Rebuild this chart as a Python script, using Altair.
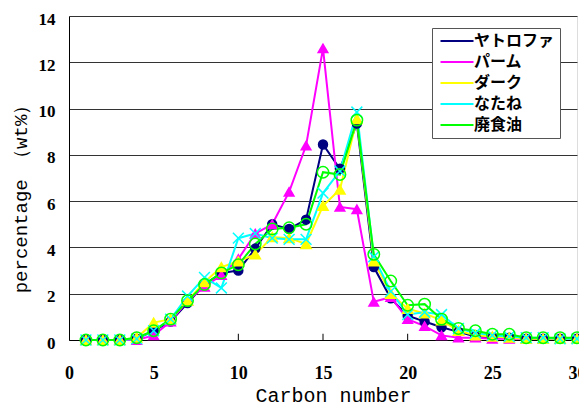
import altair as alt
import pandas as pd

carbon = list(range(1, 31))
series_names = ["ヤトロファ", "パーム", "ダーク", "なたね", "廃食油"]
yatorofa = [0.0, 0.0, 0.0, 0.05, 0.4, 0.8, 1.6, 2.4, 2.9, 3.0, 3.95, 5.0, 4.8, 5.2, 8.45, 7.4, 9.35, 3.15, 1.8, 1.05, 0.8, 0.55, 0.35, 0.15, 0.1, 0.1, 0.05, 0.05, 0.05, 0.05]
palm = [0.0, 0.0, 0.0, 0.0, 0.2, 0.8, 1.7, 2.3, 2.8, 3.5, 4.6, 5.0, 6.4, 8.4, 12.6, 5.75, 5.65, 1.65, 1.85, 0.9, 0.6, 0.2, 0.1, 0.1, 0.05, 0.05, 0.05, 0.05, 0.05, 0.05]
dark = [0.0, 0.0, 0.0, 0.1, 0.75, 0.9, 1.7, 2.5, 3.15, 3.4, 3.7, 4.45, 4.4, 4.15, 5.8, 6.5, 9.55, 3.4, 2.0, 1.35, 1.15, 0.85, 0.4, 0.2, 0.15, 0.1, 0.05, 0.05, 0.05, 0.05]
natane = [0.0, 0.0, 0.0, 0.05, 0.4, 0.9, 1.9, 2.7, 2.25, 4.4, 4.6, 4.4, 4.35, 4.35, 6.35, 7.3, 9.85, 3.6, 2.1, 1.1, 1.2, 1.1, 0.5, 0.3, 0.2, 0.15, 0.1, 0.1, 0.05, 0.05]
haishokuyu = [0.0, 0.0, 0.0, 0.1, 0.4, 0.9, 1.7, 2.4, 2.9, 3.25, 4.15, 4.8, 4.85, 5.0, 7.25, 7.15, 9.5, 3.7, 2.55, 1.5, 1.55, 0.9, 0.5, 0.4, 0.25, 0.25, 0.1, 0.1, 0.1, 0.1]
marker_keys = ["m1", "m2", "m3", "m4", "m5"]
x_tick_values = [0, 5, 10, 15, 20, 25, 30]
y_tick_values = [0, 2, 4, 6, 8, 10, 12, 14]
inner_ticks = [5, 10, 15, 20, 25]

colors = ["#000080", "#FF00FF", "#FFFF00", "#00FFFF", "#00FF00"]
fills = ["#000080", "#FF00FF", "#FFFF00", "transparent", "transparent"]
shapes = ["circle", "triangle-up", "triangle-up", "M-1,-1L1,1M-1,1L1,-1", "circle"]
sizes = [80, 130, 130, 150, 85]

rows = []
for name, key, vals in zip(series_names, marker_keys, [yatorofa, palm, dark, natane, haishokuyu]):
    for c, v in zip(carbon, vals):
        rows.append({"series": name, "marker": key, "carbon": c, "value": v})
df = pd.DataFrame(rows)
ticks_df = pd.DataFrame({"tick": inner_ticks})

xscale = alt.Scale(domain=[0, 30], nice=False)
yscale = alt.Scale(domain=[0, 14], nice=False)

x_enc = alt.X("carbon:Q", scale=xscale, axis=alt.Axis(
    values=x_tick_values, ticks=False, tickSize=0, grid=False, domainColor="#000000",
    labelFont="Liberation Serif", labelFontWeight="bold", labelFontSize=18, labelColor="#000000",
    labelPadding=24, labelFlush=False,
    title="Carbon number", titleFont="Liberation Mono", titleFontSize=20, titleFontWeight="normal",
    titleColor="#000000", titleX=264, titleY=55, titleBaseline="middle"))
y_enc = alt.Y("value:Q", scale=yscale, axis=alt.Axis(
    values=y_tick_values, ticks=False, tickSize=0, grid=True, gridColor="#333333", gridWidth=1,
    domainColor="#000000",
    labelFont="Liberation Serif", labelFontWeight="bold", labelFontSize=17, labelColor="#000000",
    labelPadding=14, labelOffset=3,
    title="percentage （wt%）", titleFont="Liberation Mono", titleFontSize=19, titleFontWeight="normal",
    titleColor="#000000", titleX=-49, titleY=178, titleAngle=270, titleBaseline="middle"))

common = dict(
    title=None, orient="none", legendX=363, padding=5, cornerRadius=0,
    labelFont="Noto Sans CJK JP", labelFontWeight="bold", labelFontSize=16,
    symbolSize=100, symbolOffset=12, labelOffset=9, rowPadding=5, symbolStrokeWidth=2,
)
legend_lines = alt.Legend(
    legendY=12, strokeColor="#555555", fillColor="#ffffff", labelColor="#000000",
    symbolType="M-3.3,0H3.3", zindex=0, **common,
)
legend_marks = alt.Legend(
    legendY=5, strokeColor="transparent", fillColor="transparent", labelColor="#000000", labelOpacity=0,
    zindex=1, **common,
)

lines = alt.Chart(df).mark_line(strokeWidth=2).encode(
    x=x_enc, y=y_enc,
    color=alt.Color("series:N", scale=alt.Scale(domain=series_names, range=colors),
                    sort=series_names, legend=legend_lines),
)
points = alt.Chart(df).mark_point(filled=False, strokeWidth=1.5, opacity=1).encode(
    x=x_enc, y=y_enc,
    stroke=alt.Stroke("marker:N", scale=alt.Scale(domain=marker_keys, range=colors),
                      sort=marker_keys, legend=legend_marks),
    fill=alt.Fill("marker:N", scale=alt.Scale(domain=marker_keys, range=fills),
                  sort=marker_keys, legend=legend_marks),
    shape=alt.Shape("marker:N", scale=alt.Scale(domain=marker_keys, range=shapes),
                    sort=marker_keys, legend=legend_marks),
    size=alt.Size("marker:N", scale=alt.Scale(domain=marker_keys, range=sizes), legend=None),
)
tick_rules = alt.Chart(ticks_df).mark_rule(color="#000000", strokeWidth=1).encode(
    x=alt.X("tick:Q", scale=xscale),
    y=alt.datum(0, scale=yscale),
    y2=alt.datum(0.27),
)

chart = alt.layer(tick_rules, lines, points).properties(
    width=508, height=324,
    autosize=alt.AutoSizeParams(type="none"),
    padding={"left": 61, "top": 8, "right": 2, "bottom": 66},
).configure_view(stroke=None).configure(background="#ffffff")

chart.save("out.html", embed_options={"renderer": "svg", "actions": False})
